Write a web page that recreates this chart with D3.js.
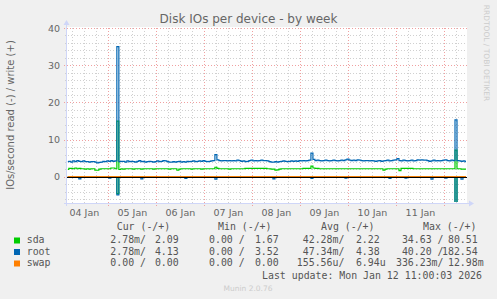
<!DOCTYPE html>
<html>
<head>
<meta charset="utf-8">
<script src="https://cdn.jsdelivr.net/npm/d3@7"></script>
<style>
  body { margin: 0; background: #f0f0f0; }
  svg { display: block; }
  text { font-family: "DejaVu Sans", sans-serif; }
  .mono { font-family: "DejaVu Sans Mono", monospace; font-size: 9.9px; fill: #555; white-space: pre; }
</style>
</head>
<body>
<svg width="497" height="299"></svg>
<script>
// hourly samples, first one at Jan 4 04:00, last one at Jan 12 11:00
var firstSample = new Date(2026, 0, 4, 4, 0);

// IOs/second, write (+)
var sdaWrite = [
  2.0, 2.3, 2.3, 2.2, 2.4, 2.2, 2.3, 2.2, 2.2, 2.1, 2.2, 2.1, 2.2, 2.2, 1.8, 1.8, 2.1, 2.2, 2.2, 2.2,
  2.2, 2.2, 2.4, 2.4, 2.2, 15.0, 2.0, 2.2, 2.1, 2.2, 2.2, 2.2, 2.2, 2.1, 2.2, 2.2, 2.2, 2.1, 2.2, 2.2,
  2.2, 2.2, 2.2, 2.1, 2.2, 2.2, 2.2, 2.2, 2.2, 2.2, 2.2, 2.1, 2.2, 2.2, 2.2, 1.8, 2.1, 2.2, 2.2, 2.2,
  2.2, 2.2, 2.1, 2.2, 2.2, 2.2, 2.2, 2.1, 2.2, 2.2, 2.2, 2.2, 2.2, 2.2, 2.6, 2.3, 2.2, 2.2, 2.2, 2.2,
  2.2, 2.1, 2.2, 2.2, 2.2, 2.2, 2.2, 2.2, 2.2, 2.3, 2.3, 2.3, 2.3, 2.3, 2.3, 2.3, 2.3, 2.3, 2.3, 2.3,
  2.2, 2.2, 2.1, 2.1, 1.8, 1.9, 2.1, 2.2, 2.2, 2.2, 2.2, 2.2, 2.2, 2.2, 2.2, 2.2, 2.2, 2.2, 2.3, 2.3,
  2.3, 2.3, 2.9, 2.4, 2.3, 2.3, 2.2, 2.2, 2.2, 2.2, 2.2, 2.2, 2.2, 2.2, 2.2, 2.2, 2.2, 2.2, 2.2, 2.2,
  2.2, 2.2, 2.2, 2.2, 2.2, 2.2, 2.2, 2.2, 2.2, 2.2, 2.2, 2.2, 2.2, 2.2, 2.2, 2.2, 2.2, 2.2, 1.8, 2.1,
  2.2, 2.2, 2.2, 2.2, 2.2, 2.2, 1.7, 2.3, 2.3, 2.3, 2.3, 2.3, 2.3, 2.2, 2.2, 2.2, 2.2, 2.2, 2.2, 2.2,
  2.2, 2.2, 2.2, 2.2, 2.2, 2.2, 2.2, 2.2, 2.2, 2.2, 2.2, 2.2, 2.2, 2.2, 7.2, 2.2, 2.2, 2.1, 2.1, 2.1
];
var rootWrite = [
  4.1, 4.2, 4.0, 4.3, 4.1, 4.4, 4.2, 4.1, 4.3, 4.1, 4.1, 4.0, 4.1, 4.1, 4.0, 3.8, 3.9, 4.0, 4.2, 4.1,
  4.3, 4.2, 4.4, 4.2, 4.3, 35.0, 4.1, 4.2, 4.2, 4.0, 4.3, 4.1, 4.2, 4.1, 4.0, 4.2, 4.4, 4.1, 4.2, 4.0,
  4.1, 4.2, 4.1, 4.0, 4.1, 4.3, 4.1, 4.2, 4.4, 4.3, 4.1, 4.0, 4.0, 4.1, 4.0, 4.1, 4.2, 4.0, 4.1, 4.0,
  4.2, 4.1, 4.2, 4.3, 4.1, 4.2, 4.3, 4.2, 4.4, 4.2, 4.1, 4.2, 4.3, 4.4, 6.0, 4.6, 4.4, 4.3, 4.4, 4.4,
  4.3, 4.4, 4.3, 4.4, 4.3, 4.5, 4.4, 4.2, 4.3, 4.1, 4.2, 4.4, 4.5, 4.3, 4.4, 4.3, 4.4, 4.5, 4.4, 4.4,
  4.3, 4.1, 4.0, 4.0, 4.1, 4.0, 4.1, 4.2, 4.3, 4.2, 4.1, 4.2, 4.3, 4.2, 4.3, 4.2, 4.4, 4.3, 4.4, 4.3,
  4.4, 4.5, 6.4, 4.7, 4.4, 4.5, 4.4, 4.3, 4.4, 4.5, 4.4, 4.3, 4.4, 4.5, 4.4, 4.3, 4.4, 4.5, 4.4, 4.6,
  4.8, 4.5, 4.4, 4.5, 4.4, 4.6, 4.5, 4.4, 4.3, 4.4, 4.4, 4.3, 4.4, 4.3, 4.2, 4.3, 4.4, 4.2, 4.3, 4.4,
  4.5, 4.3, 4.4, 4.5, 4.6, 4.9, 4.4, 4.3, 4.5, 4.4, 4.3, 4.4, 4.5, 4.3, 4.4, 4.6, 4.5, 4.6, 4.5, 4.5,
  4.4, 4.2, 4.3, 4.5, 4.3, 4.4, 4.3, 4.4, 4.5, 4.6, 4.4, 4.3, 4.5, 4.4, 15.3, 4.4, 4.3, 4.2, 4.3, 4.1
];
var swapWrite = [
  0, 0, 0, 0, 0, 0, 0, 0, 0, 0, 0, 0, 0, 0, 0, 0, 0, 0, 0, 0,
  0, 0, 0, 0, 0, 0, 0, 0, 0, 0, 0, 0, 0, 0, 0, 0, 0, 0, 0, 0,
  0, 0, 0, 0, 0, 0, 0, 0, 0, 0, 0, 0, 0, 0, 0, 0, 0, 0, 0, 0,
  0, 0, 0, 0, 0, 0, 0, 0, 0, 0, 0, 0, 0, 0, 0, 0, 0, 0, 0, 0,
  0, 0, 0, 0, 0, 0, 0, 0, 0, 0, 0, 0, 0, 0, 0, 0, 0, 0, 0, 0,
  0, 0, 0, 0, 0, 0, 0, 0, 0, 0, 0, 0, 0, 0, 0, 0, 0, 0, 0, 0,
  0, 0, 0, 0, 0, 0, 0, 0, 0, 0, 0, 0, 0, 0, 0, 0, 0, 0, 0, 0,
  0, 0, 0, 0, 0, 0, 0, 0, 0, 0, 0, 0, 0, 0, 0, 0, 0, 0, 0, 0,
  0, 0, 0, 0, 0, 0, 0, 0, 0, 0, 0, 0, 0, 0, 0, 0, 0, 0, 0, 0,
  0, 0, 0, 0, 0, 0, 0, 0, 0, 0, 0, 0, 0, 0, 0, 0, 0, 0, 0, 0
];

// IOs/second, read (-), drawn below zero
var sdaRead = [
  0, 0, 0, 0, 0, 0, 0, 0, 0, 0, 0, 0, 0, 0, 0, 0, 0, 0, 0, 0,
  0, 0, 0, 0, 0, 4.5, 0, 0, 0, 0, 0, 0, 0, 0, 0, 0, 0, 0, 0, 0,
  0, 0, 0, 0, 0, 0, 0, 0, 0, 0, 0, 0, 0, 0, 0, 0, 0, 0, 0, 0,
  0, 0, 0, 0, 0, 0, 0, 0, 0, 0, 0, 0, 0, 0, 0, 0, 0, 0, 0, 0,
  0, 0, 0, 0, 0, 0, 0, 0, 0, 0, 0, 0, 0, 0, 0, 0, 0, 0, 0, 0,
  0, 0, 0, 0, 0, 0, 0, 0, 0, 0, 0, 0, 0, 0, 0, 0, 0, 0, 0, 0,
  0, 0, 0, 0, 0, 0, 0, 0, 0, 0, 0, 0, 0, 0, 0, 0, 0, 0, 0, 0,
  0, 0, 0, 0, 0, 0, 0, 0, 0, 0, 0, 0, 0, 0, 0, 0, 0, 0, 0, 0,
  0, 0, 0, 0, 0, 0, 0, 0, 0, 0, 0, 0, 0, 0, 0, 0, 0, 0, 0, 0,
  0, 0, 0, 0, 0, 0, 0, 0, 0, 0, 0, 0, 0, 0, 9.5, 0, 0, 0, 0, 0
];
var rootRead = [
  0, 0, 0, 0, 0, 0, 0.5, 0, 0, 0, 0, 0, 0, 0, 0, 0, 0, 0, 0, 0,
  0, 0.3, 0, 0, 0, 4.8, 0, 0, 0, 0, 0, 0, 0, 0, 0, 0, 0, 0.5, 0, 0,
  0, 0, 0, 0, 0, 0, 0, 0, 0, 0, 0, 0, 0, 0, 0, 0, 0, 0, 0, 0.4,
  0, 0, 0, 0, 0, 0, 0, 0, 0, 0, 0, 0, 0, 0, 0.6, 0, 0, 0, 0, 0,
  0, 0, 0, 0, 0, 0, 0, 0, 0, 0, 0, 0, 0, 0, 0, 0, 0, 0, 0, 0,
  0, 0, 0, 0.5, 0, 0, 0, 0, 0, 0, 0, 0, 0, 0, 0, 0, 0, 0, 0, 0,
  0, 0, 0.4, 0, 0, 0, 0, 0, 0, 0, 0, 0, 0, 0, 0, 0, 0, 0, 0, 0.3,
  0, 0, 0, 0, 0, 0, 0, 0, 0, 0, 0, 0, 0, 0, 0, 0, 0, 0, 0, 0,
  0, 0.4, 0, 0, 0, 0, 0, 0, 0, 0.3, 0, 0, 0, 0, 0, 0, 0, 0, 0, 0,
  0, 0, 0.6, 0, 0, 0, 0, 0, 0, 0.3, 0, 0, 0, 0, 9.5, 0, 0, 0.6, 0, 0
];
var swapRead = swapWrite.slice();

var yTicks = [0, 10, 20, 30, 40];

// legend rows
var names = ["sda", "root", "swap"];
var colors = ["#00cc00", "#0066b3", "#ff8000"];
var curRW = [[2.78e-3, 2.09], [2.78e-3, 4.13], [0, 0]];
var minRW = [[0, 1.67], [0, 3.52], [0, 0]];
var avgRW = [[42.28e-3, 2.22], [47.34e-3, 4.38], [155.56e-6, 6.94e-6]];
var maxRW = [[34.63, 80.51], [40.20, 182.54], [336.23e-3, 12.98e-3]];
var lastUpdate = "Last update: Mon Jan 12 11:00:03 2026";

var svg = d3.select("svg");
var plotLeft = 67, plotRight = 467, plotTop = 28, plotBottom = 203;

var hours = d3.range(sdaWrite.length).map(function (i) { return d3.timeHour.offset(firstSample, i); });
var x = d3.scaleTime()
    .domain([d3.timeMinute.offset(firstSample, -25), d3.timeMinute.offset(hours[hours.length - 1], 30)])
    .range([plotLeft, plotRight]);
var y = d3.scaleLinear().domain([-7, 40]).range([plotBottom, plotTop]);

function px(v) { return Math.round(v) + 0.5; }

svg.append("rect").attr("x", plotLeft).attr("y", plotTop - 1)
    .attr("width", plotRight - plotLeft).attr("height", plotBottom - plotTop + 1).attr("fill", "#fff");

// grid sits in its own layer, under everything else
var grid = svg.append("g").attr("class", "grid");

var minorY = d3.range(-6, 40, 2).filter(function (v) { return v % 10 !== 0; });
grid.selectAll(".gy").data(minorY).enter().append("line")
    .attr("class", "gy")
    .attr("x1", plotLeft - 2).attr("x2", plotRight)
    .attr("y1", function (d) { return px(y(d)); }).attr("y2", function (d) { return px(y(d)); })
    .attr("stroke", "#d0d0d0").attr("stroke-dasharray", "1,2");
var minorX = d3.timeHour.every(6).range(x.domain()[0], x.domain()[1])
    .filter(function (d) { return d.getHours() !== 0; });
grid.selectAll(".gx").data(minorX).enter().append("line")
    .attr("class", "gx")
    .attr("x1", function (d) { return px(x(d)); }).attr("x2", function (d) { return px(x(d)); })
    .attr("y1", plotTop).attr("y2", plotBottom + 2)
    .attr("stroke", "#d0d0d0").attr("stroke-dasharray", "1,2");

grid.selectAll(".my").data(yTicks).enter().append("line")
    .attr("class", "my")
    .attr("x1", plotLeft - 3).attr("x2", plotRight)
    .attr("y1", function (d) { return px(y(d)); }).attr("y2", function (d) { return px(y(d)); })
    .attr("stroke", "#f0a0a0").attr("stroke-dasharray", "1,2");
var days = d3.timeDay.range(x.domain()[0], x.domain()[1]);
grid.selectAll(".mx").data(days).enter().append("line")
    .attr("class", "mx")
    .attr("x1", function (d) { return px(x(d)); }).attr("x2", function (d) { return px(x(d)); })
    .attr("y1", plotTop).attr("y2", plotBottom + 3)
    .attr("stroke", "#f0a0a0").attr("stroke-dasharray", "1,2");

// axes labels, one per day at noon
var noons = d3.timeDay.range(d3.timeDay.floor(x.domain()[0]), x.domain()[1])
    .map(function (d) { return d3.timeHour.offset(d, 12); })
    .filter(function (d) { return d < x.domain()[1]; });
var yAxis = svg.append("g").attr("transform", "translate(" + (plotLeft - 5) + ",0)")
    .call(d3.axisLeft(y).tickValues(yTicks).tickSize(0).tickPadding(2));
var xAxis = svg.append("g").attr("transform", "translate(0," + (plotBottom + 4) + ")")
    .call(d3.axisBottom(x).tickValues(noons)
        .tickFormat(d3.timeFormat("%d %b")).tickSize(0).tickPadding(2));
[yAxis, xAxis].forEach(function (g) {
    g.select(".domain").remove();
    g.selectAll(".tick line").remove();
    g.selectAll("text").attr("fill", "#666").attr("font-size", "9.5px").attr("font-family", "DejaVu Sans");
});

// data
svg.append("clipPath").attr("id", "plot").append("rect")
    .attr("x", plotLeft).attr("y", plotTop - 1).attr("width", plotRight - plotLeft).attr("height", plotBottom - plotTop);
var plot = svg.append("g").attr("clip-path", "url(#plot)");

function drawSeries(values, sign, color) {
    var line = d3.line()
        .x(function (d, i) { return x(hours[i]); })
        .y(function (d) { return y(sign * d); })
        .curve(d3.curveStep);
    plot.append("path").datum(values)
        .attr("d", line).attr("fill", "none")
        .attr("stroke", color).attr("stroke-width", 1.2);
}
drawSeries(sdaRead, -1, colors[0]);
drawSeries(sdaWrite, 1, colors[0]);
drawSeries(rootRead, -1, colors[1]);
drawSeries(rootWrite, 1, colors[1]);
drawSeries(swapRead, -1, colors[2]);
drawSeries(swapWrite, 1, colors[2]);

svg.append("line").attr("x1", plotLeft).attr("x2", plotRight)
    .attr("y1", px(y(0))).attr("y2", px(y(0)))
    .attr("stroke", "#000").attr("shape-rendering", "crispEdges");

// axis lines and arrows
var axisColor = "#cfd6f8";
svg.append("line").attr("x1", plotLeft - 0.5).attr("x2", plotLeft - 0.5).attr("y1", plotTop - 4).attr("y2", plotBottom + 3)
    .attr("stroke", axisColor);
svg.append("line").attr("x1", plotLeft - 3).attr("x2", plotRight + 3).attr("y1", plotBottom + 0.5).attr("y2", plotBottom + 0.5)
    .attr("stroke", axisColor);
svg.append("path").attr("d", "M" + (plotLeft - 3.5) + "," + (plotTop - 3) + "L" + (plotLeft - 0.5) + "," + (plotTop - 8) + "L" + (plotLeft + 2.5) + "," + (plotTop - 3) + "Z")
    .attr("fill", axisColor);
svg.append("path").attr("d", "M" + (plotRight + 2) + "," + (plotBottom - 2.5) + "L" + (plotRight + 7) + "," + (plotBottom + 0.5) + "L" + (plotRight + 2) + "," + (plotBottom + 3.5) + "Z")
    .attr("fill", axisColor);

// titles
svg.append("text").attr("x", 248.5).attr("y", 23).attr("text-anchor", "middle")
    .attr("font-size", "12px").attr("fill", "#666").text("Disk IOs per device - by week");
svg.append("text").attr("transform", "translate(14,115) rotate(-90)").attr("text-anchor", "middle")
    .attr("font-size", "10px").attr("fill", "#666").text("IOs/second read (-) / write (+)");
svg.append("text").attr("transform", "translate(484,53) rotate(90)").attr("text-anchor", "middle")
    .attr("font-size", "7.5px").attr("fill", "#ccc").text("RRDTOOL / TOBI OETIKER");

// legend
function si(v) {
    if (v === 0) return [0, " "];
    if (Math.abs(v) < 1e-3) return [v * 1e6, "u"];
    if (Math.abs(v) < 1) return [v * 1e3, "m"];
    return [v, " "];
}
function fmt(v) {
    var s = si(v);
    var n = s[0].toFixed(2);
    while (n.length < 6) n = " " + n;
    return n + s[1];
}

var columns = [
    { head: "Cur (-/+)", hx: 116.7, readEnd: 146, writeX: 143, vals: curRW },
    { head: "Min (-/+)", hx: 218, readEnd: 244.7, writeX: 243, vals: minRW },
    { head: "Avg (-/+)", hx: 321, readEnd: 344.4, writeX: 344, vals: avgRW },
    { head: "Max (-/+)", hx: 423, readEnd: 443.5, writeX: 442, vals: maxRW }
];
var rowY = [243, 254.5, 266];

columns.forEach(function (c) {
    svg.append("text").attr("class", "mono").attr("x", c.hx).attr("y", 230).text(c.head);
    c.vals.forEach(function (rw, i) {
        svg.append("text").attr("class", "mono").attr("x", c.readEnd).attr("y", rowY[i])
            .attr("text-anchor", "end").text(fmt(rw[0]) + "/");
        svg.append("text").attr("class", "mono").attr("x", c.writeX).attr("y", rowY[i])
            .text(fmt(rw[1]));
    });
});
names.forEach(function (n, i) {
    svg.append("rect").attr("x", 14).attr("y", rowY[i] - 5.5).attr("width", 6).attr("height", 6)
        .attr("fill", colors[i]);
    svg.append("text").attr("class", "mono").attr("x", 26.7).attr("y", rowY[i]).text(n);
});
svg.append("text").attr("class", "mono").attr("x", 482).attr("y", 279).attr("text-anchor", "end").text(lastUpdate);
svg.append("text").attr("x", 248).attr("y", 291).attr("text-anchor", "middle")
    .attr("font-size", "7.5px").attr("fill", "#ccc").text("Munin 2.0.76");
</script>
</body>
</html>
